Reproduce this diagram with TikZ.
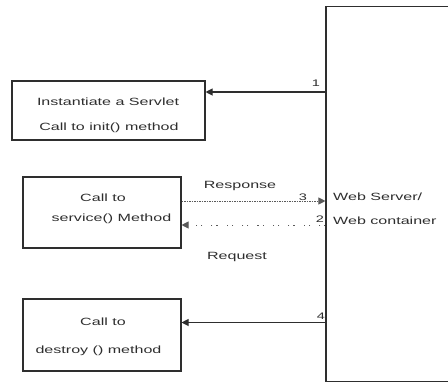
\documentclass[tikz,border=0pt]{standalone}
\usepackage{fontspec}
\setmainfont{Liberation Sans}
\usepackage{graphicx}
\usetikzlibrary{arrows.meta}
\definecolor{ink}{gray}{0.18}
\definecolor{dotink}{gray}{0.35}
% wide sans text used throughout
\newcommand\wtxt[1]{\scalebox{1.53}[1]{#1}}
\tikzset{
  box/.style={draw=ink, line width=1.1pt, rectangle, inner sep=0pt},
  txt/.style={anchor=base, inner sep=0pt, text=ink, font=\fontsize{10.5}{12}\selectfont},
  num/.style={anchor=base, inner sep=0pt, text=ink, font=\fontsize{9.5}{11}\selectfont},
  call/.style={draw=ink, line width=1.1pt, -{Triangle[length=7pt,width=7pt]}},
  reply/.style={draw=dotink, line width=1pt, dash pattern=on 1.5pt off 1pt, -{Triangle[length=7pt,width=7pt]}},
  ask/.style={draw=dotink, line width=1pt, dash pattern=on 1.2pt off 4pt on 1.2pt off 9pt, -{Triangle[length=7pt,width=7pt]}},
}
\begin{document}
\begin{tikzpicture}[x=1pt,y=-1pt]
\useasboundingbox (0,0) rectangle (448,384);
\clip (0,0) rectangle (448,384);

% web server / container
\node[box, minimum width=144pt, minimum height=375pt] (server) at (398,194.2) {};
\node[txt, anchor=base west] (srv1) at (333,200) {\wtxt{Web Server/}};
\node[txt, anchor=base west] (srv2) at (333,224) {\wtxt{Web container}};

% life-cycle steps
\node[box, minimum width=193pt, minimum height=59pt] (init) at (108.5,110.5) {};
\node[txt] (init1) at (108,105) {\wtxt{Instantiate a Servlet}};
\node[txt] (init2) at (109,130) {\wtxt{Call to init() method}};

\node[box, minimum width=158pt, minimum height=71pt] (service) at (102,212.5) {};
\node[txt] (svc1) at (103,201) {\wtxt{Call to}};
\node[txt] (svc2) at (111.5,221) {\wtxt{service() Method}};

\node[box, minimum width=158pt, minimum height=72pt] (destroy) at (102,335) {};
\node[txt] (des1) at (103,325) {\wtxt{Call to}};
\node[txt] (des2) at (98.5,353) {\wtxt{destroy () method}};

% connectors
\draw[call] (server.west |- 0,92) -- (init.east |- 0,92);
\draw[reply] (service.east |- 0,201) -- (server.west |- 0,201);
\draw[ask] (server.west |- 0,225) -- (service.east |- 0,225);
\draw[call] (server.west |- 0,322.5) -- (destroy.east |- 0,322.5);

% labels
\node[num] (n1) at (316,86) {\wtxt{1}};
\node[num] (n3) at (303,200) {\wtxt{3}};
\node[num] (n2) at (320,222) {\wtxt{2}};
\node[num] (n4) at (321,319) {\wtxt{4}};
\node[txt] (resp) at (240,188) {\wtxt{Response}};
\node[txt] (req) at (237,259) {\wtxt{Request}};
\end{tikzpicture}
\end{document}
